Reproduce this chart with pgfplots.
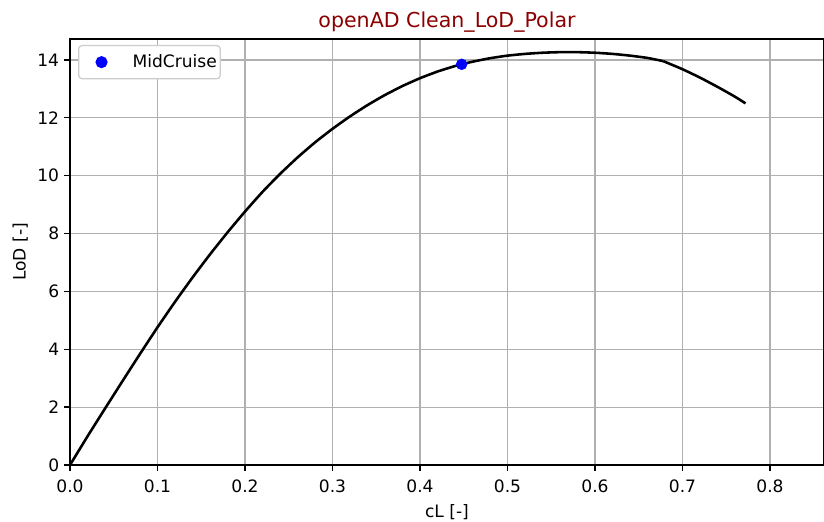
\documentclass[border=0pt]{standalone}
\usepackage{fontspec}
\setmainfont{DejaVu Sans}
\usepackage{pgfplots}
\pgfplotsset{compat=1.18}
\definecolor{titlered}{RGB}{139,0,0}
\definecolor{gridgray}{RGB}{176,176,176}
\definecolor{legframe}{RGB}{204,204,204}
\begin{document}
\begin{tikzpicture}
\useasboundingbox (0,0) rectangle (593.28pt,375.12pt);
\begin{axis}[
  at={(50.4pt,40.32pt)}, anchor=south west,
  scale only axis, width=542.88pt, height=306.72pt,
  xmin=0, xmax=0.8617, ymin=0, ymax=14.725,
  xtick={0,0.1,...,0.8}, ytick={0,2,...,14},
  grid=major, major grid style={gridgray, line width=0.9pt},
  axis line style={line width=0.95pt},
  tick align=outside, tick pos=left, major tick length=4.3pt,
  tick style={line width=0.95pt, black},
  /pgf/number format/assume math mode=true,
  xticklabel style={yshift=-2.5pt, /pgf/number format/.cd, fixed, fixed zerofill, precision=1},
  yticklabel style={/pgf/number format/.cd, fixed, precision=0},
  ticklabel style={font=\fontsize{12.3}{14}\selectfont},
  xlabel={cL [-]}, ylabel={LoD [-]},
  label style={font=\fontsize{12.3}{14}\selectfont},
  xlabel style={yshift=-2pt},
  title={openAD Clean\_LoD\_Polar},
  title style={font=\fontsize{14.8}{17}\selectfont, text=titlered, yshift=-4.5pt},
  legend style={at={(0,1)}, xshift=5.76pt, yshift=-4.3pt, anchor=north west,
    draw=legframe, rounded corners=2.5pt, line width=0.9pt,
    font=\fontsize{12.3}{14}\selectfont, inner xsep=0.5pt, inner ysep=4.5pt},
  legend cell align=left,
  legend image code/.code={\path[draw=none, fill=none, sharp corners] (0pt,0pt) rectangle (36.3pt,0pt);
    \draw[sharp corners] plot coordinates {(16pt,0pt)};},
]
\addplot[black, line width=1.85pt, smooth, tension=0.3, forget plot] coordinates {
(0,0) (0.02,0.99) (0.04,1.95) (0.06,2.9) (0.08,3.84) (0.1,4.76) (0.12,5.64)
(0.14,6.48) (0.16,7.28) (0.18,8.04) (0.2,8.76) (0.22,9.44) (0.24,10.06)
(0.26,10.63) (0.28,11.15) (0.3,11.62) (0.32,12.05) (0.34,12.44) (0.36,12.79)
(0.38,13.1) (0.4,13.37) (0.42,13.6) (0.44,13.79) (0.46,13.94) (0.48,14.06)
(0.5,14.15) (0.52,14.21) (0.54,14.25) (0.56,14.27) (0.58,14.27) (0.6,14.25)
(0.62,14.21) (0.64,14.15) (0.66,14.07) (0.678,13.96)
};
\addplot[black, line width=1.85pt, smooth, tension=0.3, forget plot] coordinates {
(0.678,13.96) (0.7,13.68) (0.72,13.39) (0.74,13.07) (0.76,12.73) (0.772,12.5)
};
\addplot[only marks, mark=*, mark size=3.9pt, blue, mark options={draw=blue, fill=blue}] coordinates {(0.4476,13.85)};
\addlegendentry{MidCruise}
\end{axis}
\end{tikzpicture}
\end{document}
